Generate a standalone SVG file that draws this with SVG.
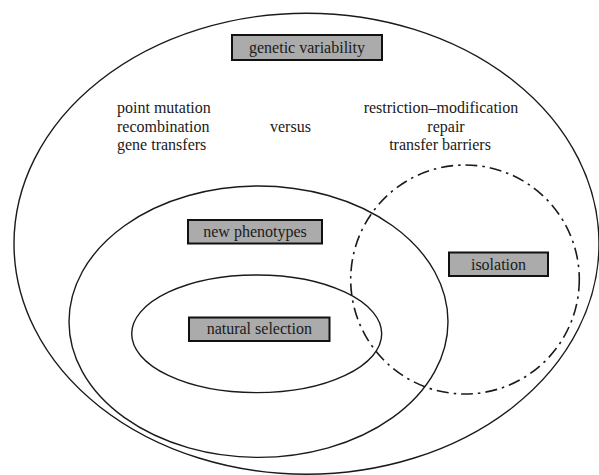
<svg xmlns="http://www.w3.org/2000/svg" width="599" height="475" viewBox="0 0 599 475">
<style>
.ring{fill:none;stroke:#1a1a1a;stroke-width:1.4}
.dd{fill:none;stroke:#1a1a1a;stroke-width:1.6;stroke-dasharray:12 5 2.5 5}
.box{fill:#ababab;stroke:#111;stroke-width:2}
.t{font-family:'Liberation Serif','Times New Roman',serif;font-size:16px;fill:#1a1a1a}
.c{text-anchor:middle}
</style>
<rect width="599" height="475" fill="#fff"/>
<g id="connectors">
<ellipse id="outer" class="ring" cx="306.5" cy="243.7" rx="292.5" ry="230.5"/>
<ellipse id="middle" class="ring" cx="258.5" cy="321.7" rx="189.5" ry="135.7"/>
<ellipse id="inner" class="ring" cx="256.7" cy="333.8" rx="125" ry="58.8"/>
<ellipse id="isolation-ring" class="dd" cx="465" cy="279.5" rx="114.3" ry="114.5"/>
</g>
<g id="genetic-variability">
<rect class="box" x="232" y="35" width="150" height="25"/>
<text class="t c" x="307" y="53">genetic variability</text>
</g>
<g id="sources">
<text class="t" x="117" y="113">point mutation</text>
<text class="t" x="117" y="131.5">recombination</text>
<text class="t" x="117" y="149.5">gene transfers</text>
</g>
<g id="versus">
<text class="t" x="270" y="131.5">versus</text>
</g>
<g id="barriers">
<text class="t c" x="441" y="113">restriction–modification</text>
<text class="t c" x="446" y="131.5">repair</text>
<text class="t c" x="440" y="149.5">transfer barriers</text>
</g>
<g id="new-phenotypes">
<rect class="box" x="188" y="220" width="134" height="23.5"/>
<text class="t c" x="255" y="236.5">new phenotypes</text>
</g>
<g id="natural-selection">
<rect class="box" x="189" y="317.5" width="140.5" height="23.5"/>
<text class="t c" x="259.3" y="334">natural selection</text>
</g>
<g id="isolation">
<rect class="box" x="449" y="252.5" width="99" height="23.5"/>
<text class="t c" x="498.5" y="269.5">isolation</text>
</g>
</svg>
